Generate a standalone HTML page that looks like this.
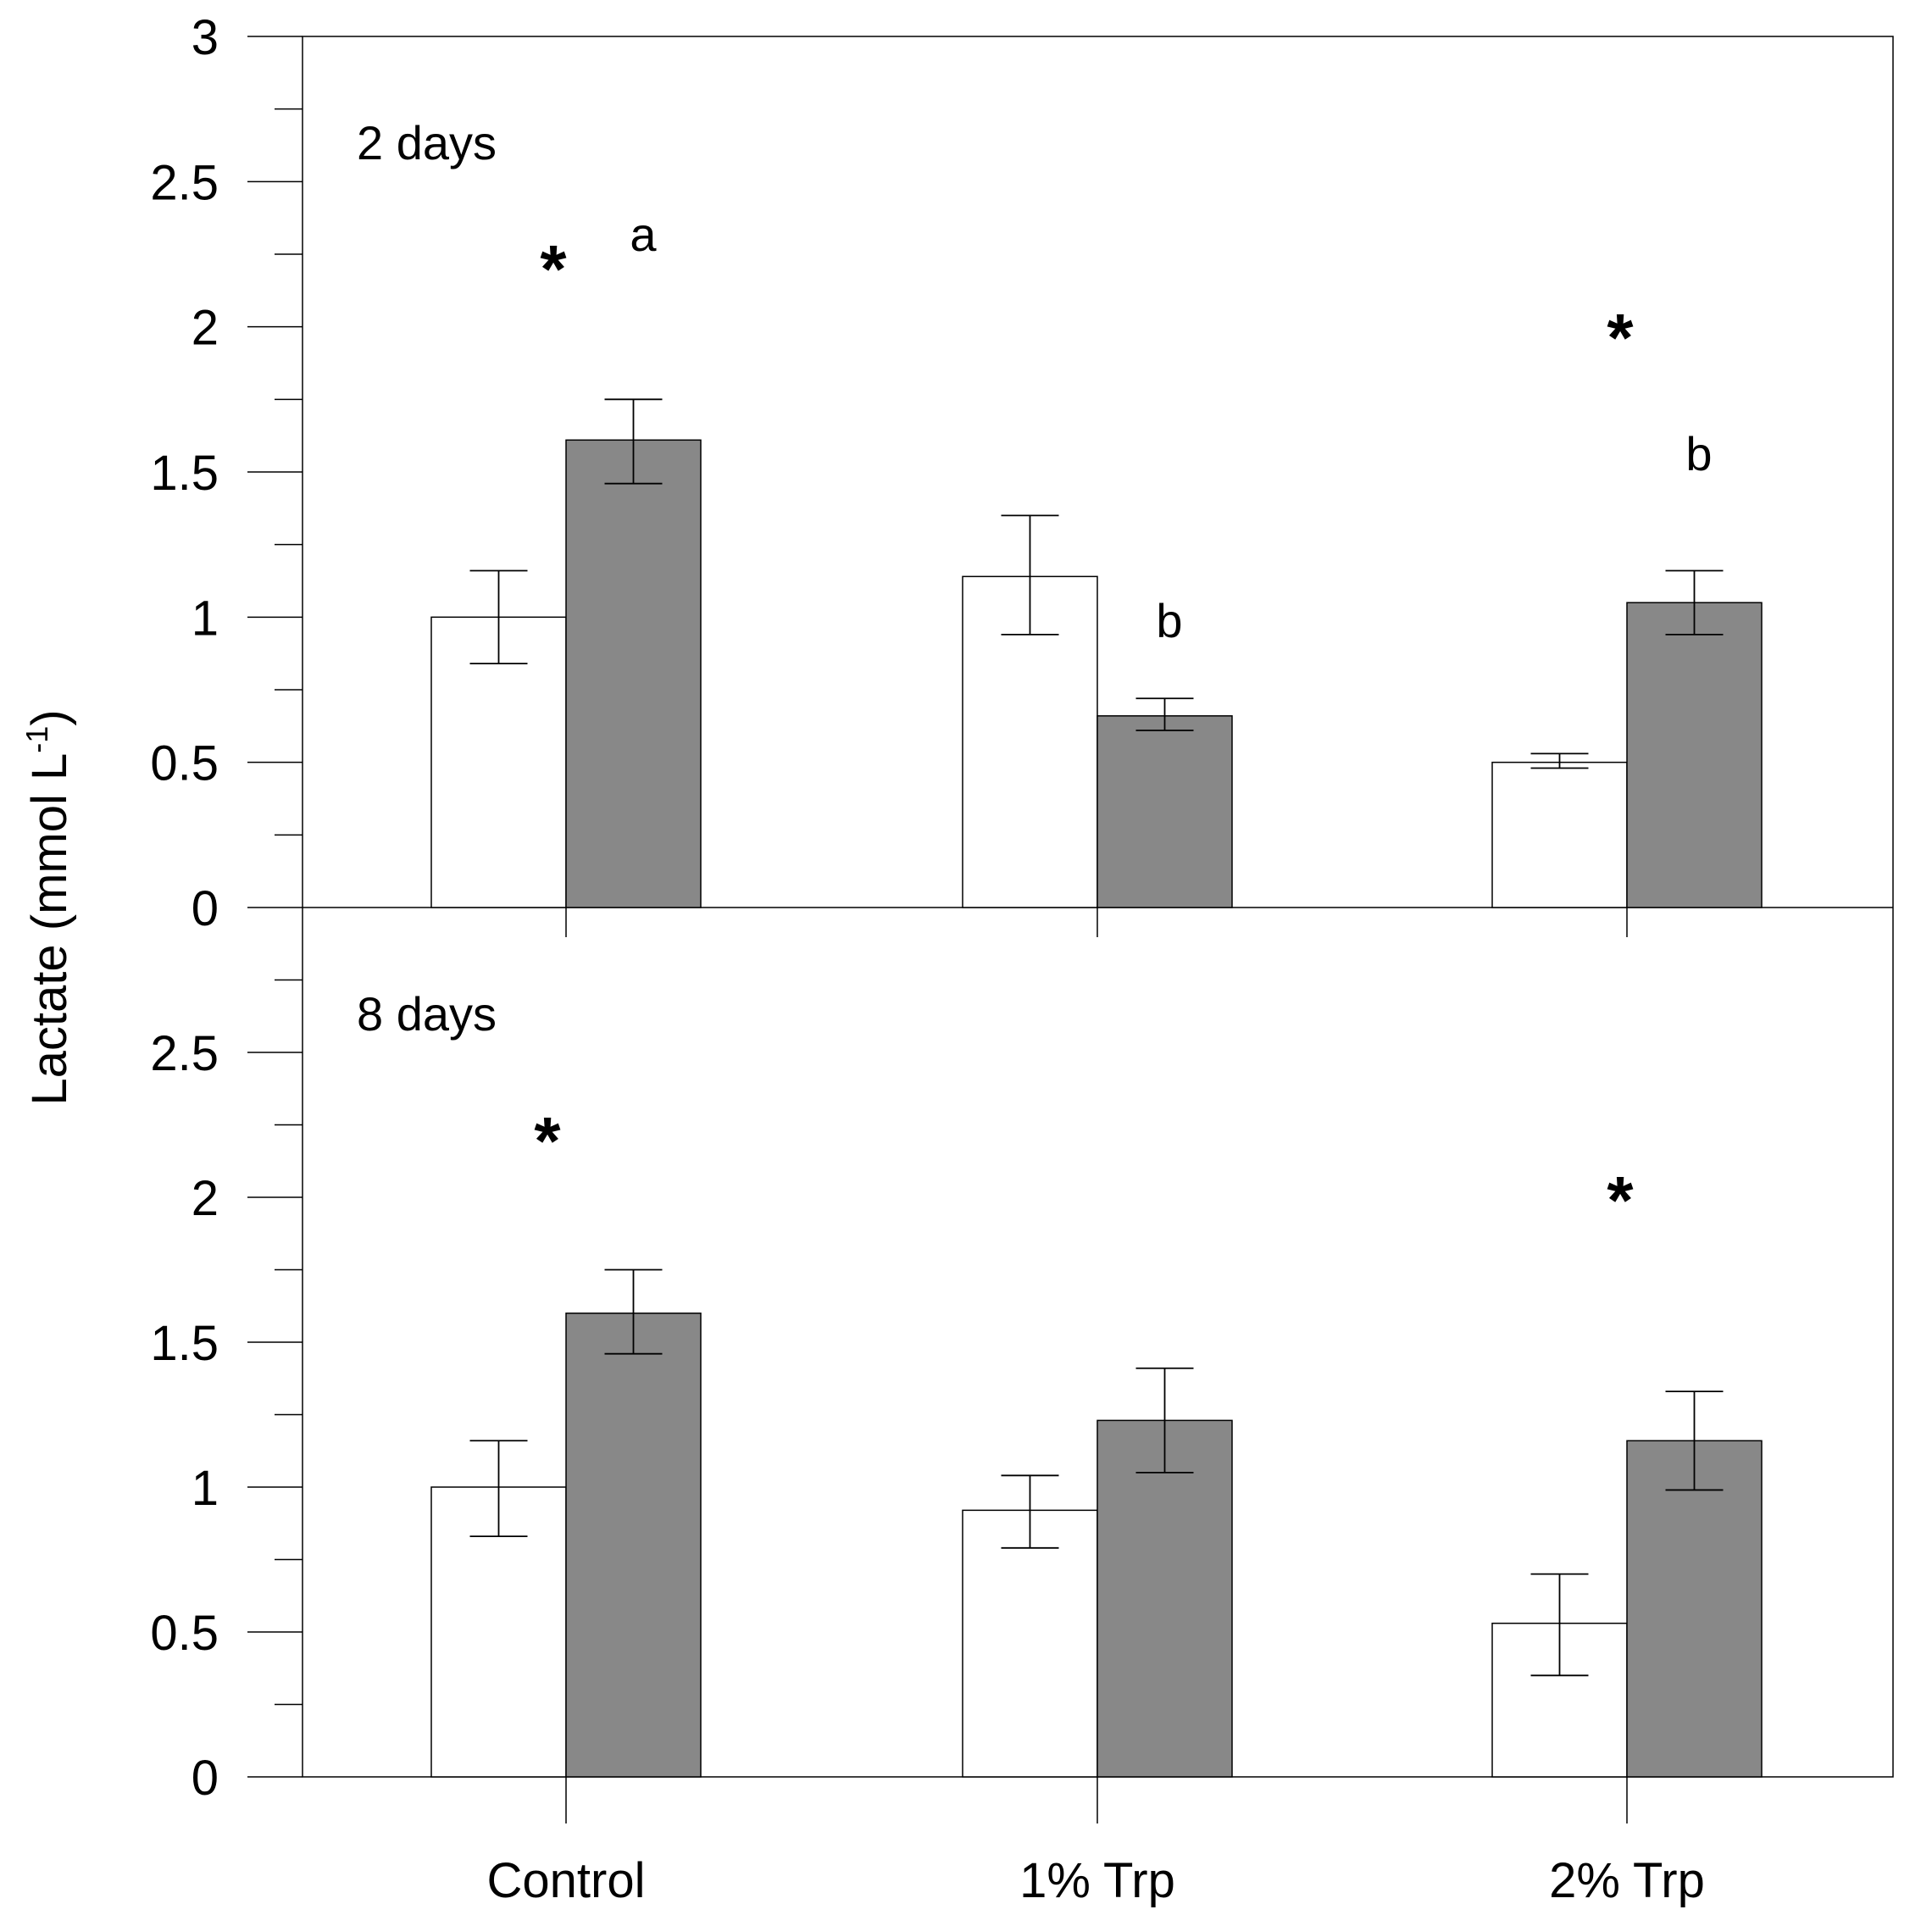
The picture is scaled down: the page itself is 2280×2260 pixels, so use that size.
<!DOCTYPE html>
<html><head><meta charset="utf-8"><style>
html,body{margin:0;padding:0;background:#fff}
svg{display:block;font-family:"Liberation Sans",Arial,sans-serif}
</style></head><body>
<svg id="chart" width="2280" height="2260" viewBox="0 0 2280 2260" xmlns="http://www.w3.org/2000/svg">
<rect x="0" y="0" width="2280" height="2260" fill="#fff"/>
<text transform="translate(78,1071) rotate(-90)" text-anchor="middle" font-size="58">Lactate (mmol L<tspan dy="-22" font-size="36">-1</tspan><tspan dy="22">)</tspan></text>
<g id="g"></g>
</svg>
<script>
const categories = ["Control", "1% Trp", "2% Trp"];
const panels = ["2 days", "8 days"];
const whiteVals2 = [1.00, 1.14, 0.50];
const whiteLo2 = [0.84, 0.94, 0.48];
const whiteHi2 = [1.16, 1.35, 0.53];
const grayVals2 = [1.61, 0.66, 1.05];
const grayLo2 = [1.46, 0.61, 0.94];
const grayHi2 = [1.75, 0.72, 1.16];
const whiteVals8 = [1.00, 0.92, 0.53];
const whiteLo8 = [0.83, 0.79, 0.35];
const whiteHi8 = [1.16, 1.04, 0.70];
const grayVals8 = [1.60, 1.23, 1.16];
const grayLo8 = [1.46, 1.05, 0.99];
const grayHi8 = [1.75, 1.41, 1.33];
const tickLabels = ["0", "0.5", "1", "1.5", "2", "2.5", "3"];
const tickValues = [0, 0.5, 1, 1.5, 2, 2.5, 3];

const NS = "http://www.w3.org/2000/svg";
const g = document.getElementById("g");
function el(tag, attrs, parent) {
  const e = document.createElementNS(NS, tag);
  for (const k in attrs) e.setAttribute(k, attrs[k]);
  (parent || g).appendChild(e);
  return e;
}
const L = 357, R = 2234, PTOP = [43, 1071], PBOT = [1071, 2097];
const centers = [668, 1295, 1920];
const BW = 159, CAP = 34;
function yScale(p, v) { return PBOT[p] - (v / 3) * (PBOT[p] - PTOP[p]); }
function xCenter(i) { return centers[i]; }

const data = [
  {w: whiteVals2, wl: whiteLo2, wh: whiteHi2, gv: grayVals2, gl: grayLo2, gh: grayHi2},
  {w: whiteVals8, wl: whiteLo8, wh: whiteHi8, gv: grayVals8, gl: grayLo8, gh: grayHi8}
];

const frame = el("rect", {x: L, y: PTOP[0], width: R - L, height: PBOT[1] - PTOP[0], fill: "none", stroke: "#000", "stroke-width": 1.5});


const mid = el("line", {x1: L, x2: R, y1: PBOT[0], y2: PBOT[0], stroke: "#000", "stroke-width": 1.5});



for (let p = 0; p < 2; p++) {
  for (let t = 0; t < tickValues.length; t++) {
    if (p === 1 && t === tickValues.length - 1) continue;
    const y = yScale(p, tickValues[t]);
    const tk = el("line", {x1: 292, x2: L, y1: y, y2: y, stroke: "#000", "stroke-width": 1.5});
    
    
    const lb = el("text", {x: 258, y: y + 21, "text-anchor": "end", "font-size": 58});
    lb.textContent = tickLabels[t];
    
    
    if (t < tickValues.length - 1) {
      const ym = yScale(p, tickValues[t] + 0.25);
      const mt = el("line", {x1: 324, x2: L, y1: ym, y2: ym, stroke: "#000", "stroke-width": 1.5});
      
      
    }
  }
  const d = data[p];
  for (let i = 0; i < categories.length; i++) {
    const cx = xCenter(i);
    const pairs = [[d.w[i], d.wl[i], d.wh[i], "#fff", cx - BW, 'white-bar'], [d.gv[i], d.gl[i], d.gh[i], "#888", cx, 'gray-bar']];
    for (const [v, lo, hi, fill, x, nm] of pairs) {
      const y = yScale(p, v);
      const b = el("rect", {x: x, y: y, width: BW, height: PBOT[p] - y, fill: fill, stroke: "#000", "stroke-width": 1.5});
      
      
      const ex = x + BW / 2, y1 = yScale(p, lo), y2 = yScale(p, hi);
      const eb = el("path", {d: `M${ex},${y1}V${y2}M${ex - CAP},${y1}H${ex + CAP}M${ex - CAP},${y2}H${ex + CAP}`, stroke: "#000", "stroke-width": 1.8, fill: "none"});
      
      
    }
    const ct = el("line", {x1: cx, x2: cx, y1: PBOT[p], y2: PBOT[p] + (p === 0 ? 35 : 55), stroke: "#000", "stroke-width": 1.5});
    
    
  }
  const pl = el("text", {x: 421, y: PTOP[p] + 145, "font-size": 56});
  pl.textContent = panels[p];
  
  
}
for (let i = 0; i < categories.length; i++) {
  const xl = el("text", {x: xCenter(i), y: 2239, "text-anchor": "middle", "font-size": 58});
  xl.textContent = categories[i];
  
  
}
const annots = [["*", 653, 345, 80], ["a", 759, 296, 56], ["b", 1380, 752, 56], ["*", 1912, 426, 80], ["b", 2005, 555, 56], ["*", 646, 1374, 80], ["*", 1912, 1444, 80]];
for (const [t, x, y, fs] of annots) {
  const a = el("text", {x: x, y: y, "text-anchor": "middle", "font-size": fs, "font-weight": t === "*" ? "bold" : "normal"});
  a.textContent = t;
  
  
}
</script>
</body></html>
